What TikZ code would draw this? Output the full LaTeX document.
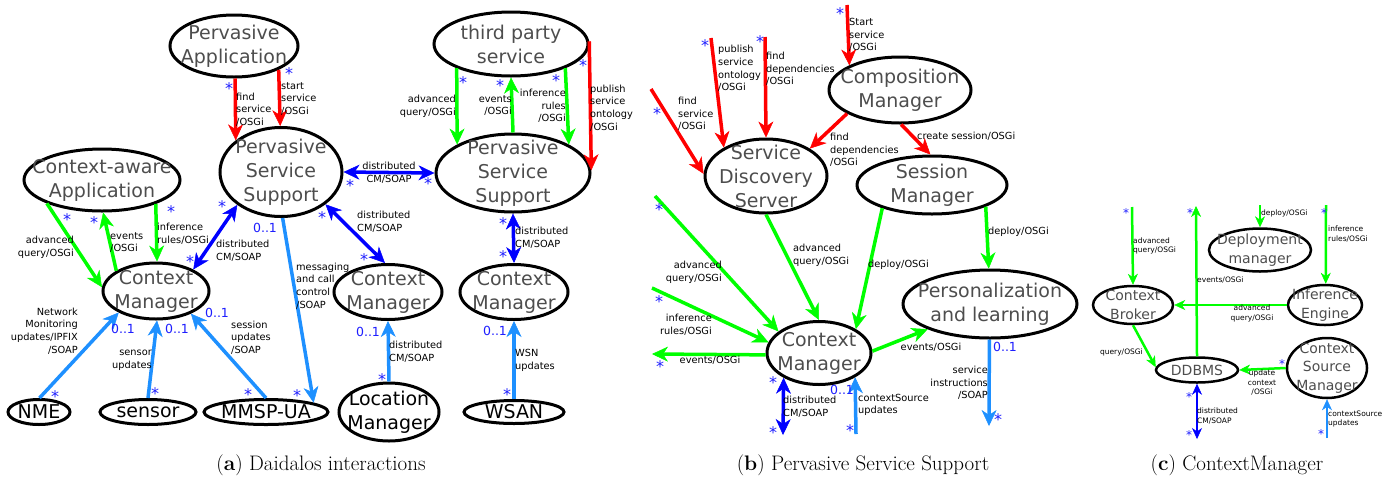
\documentclass[tikz,border=0pt]{standalone}
\usepackage{fontspec}
\usetikzlibrary{shapes.geometric,arrows.meta}
\newfontfamily\dv{DejaVu Sans}
\definecolor{cred}{RGB}{255,0,0}
\definecolor{cgreen}{RGB}{0,255,0}
\definecolor{cblue}{RGB}{0,0,255}
\definecolor{clblue}{RGB}{30,144,255}
\definecolor{cstar}{RGB}{30,30,255}
\definecolor{ctxt}{RGB}{77,77,77}
\tikzset{
  hd/.tip={Stealth[length=16pt,width=15pt,inset=5pt,line width=0.5pt]},
  hdc/.tip={Stealth[length=11pt,width=10pt,inset=3.5pt,line width=0.5pt]}
}
\begin{document}
\begin{tikzpicture}[x=1pt,y=-1pt,
  ell/.style={ellipse,draw,line width=3pt,inner sep=0pt},
  ellc/.style={ellipse,draw,line width=2.5pt,inner sep=0pt},
  etxt/.style={font=\dv\fontsize{19}{24}\selectfont,text=ctxt,align=center,inner sep=0pt},
  btxt/.style={font=\dv\fontsize{19}{24}\selectfont,text=black,align=center,inner sep=0pt},
  ctxtc/.style={font=\dv\fontsize{14}{18.3}\selectfont,text=ctxt,align=center,inner sep=0pt},
  lab/.style={font=\dv\fontsize{9.8}{12.6}\selectfont,inner sep=0pt},
  labL/.style={lab,align=left,anchor=west},
  labR/.style={lab,align=right,anchor=east},
  labC/.style={lab,align=center},
  labc/.style={font=\dv\fontsize{7.5}{9.8}\selectfont,inner sep=0pt},
  labcL/.style={labc,align=left,anchor=west},
  labcR/.style={labc,align=right,anchor=east},
  labcC/.style={labc,align=center},
  mstar/.style={font=\dv\fontsize{16}{16}\selectfont,text=cstar,inner sep=0pt,yshift=-2.7pt},
  mstarc/.style={font=\dv\fontsize{12}{12}\selectfont,text=cstar,inner sep=0pt,yshift=-2pt},
  mult/.style={font=\dv\fontsize{12.5}{12.5}\selectfont,text=cstar,inner sep=0pt},
  captxt/.style={font=\rmfamily\fontsize{21}{25}\selectfont,inner sep=0pt},
  conn/.style={line width=3.5pt,-hd},
  redar/.style={conn,draw=cred},
  grar/.style={conn,draw=cgreen},
  lbar/.style={conn,draw=clblue},
  dblb/.style={line width=3.5pt,hd-hd,draw=cblue},
  connc/.style={line width=2.5pt,-hdc},
  grc/.style={connc,draw=cgreen},
  lbc/.style={connc,draw=clblue},
  dblc/.style={line width=2.5pt,hdc-hdc,draw=cblue}
]
\useasboundingbox (0,0) rectangle (1399,480);

% ================= panel (a) =================
\node[ell,minimum width=128pt,minimum height=62pt] (pa) at (234,46) {};
\node[etxt] (pat) at (pa) {Pervasive\\Application};
\node[ell,minimum width=122pt,minimum height=89pt] (pss1) at (281,172) {};
\node[etxt] (pss1t) at (pss1) {Pervasive\\Service\\Support};
\node[ell,minimum width=156pt,minimum height=62pt] (caa) at (102,180) {};
\node[etxt] (caat) at (caa) {Context-aware\\Application};
\node[ell,minimum width=106pt,minimum height=56pt] (cm1) at (156,291) {};
\node[etxt] (cm1t) at (cm1) {Context\\Manager};
\node[ell,minimum width=62pt,minimum height=25pt] (nme) at (39,412) {};
\node[btxt] (nmet) at (nme) {NME};
\node[ell,minimum width=96pt,minimum height=25pt] (sensor) at (148,412) {};
\node[btxt] (sensort) at (sensor) {sensor};
\node[ell,minimum width=124pt,minimum height=25pt] (mmsp) at (266,412) {};
\node[btxt] (mmspt) at (mmsp) {MMSP-UA};
\node[ell,minimum width=100pt,minimum height=58pt] (loc) at (389,412) {};
\node[btxt] (loct) at (loc) {Location\\Manager};
\node[ell,minimum width=100pt,minimum height=23pt] (wsan) at (514,412) {};
\node[btxt] (wsant) at (wsan) {WSAN};
\node[ell,minimum width=108pt,minimum height=55pt] (cm2) at (388,292) {};
\node[etxt] (cm2t) at (cm2) {Context\\Manager};
\node[ell,minimum width=108pt,minimum height=55pt] (cm3) at (514,292) {};
\node[etxt] (cm3t) at (cm3) {Context\\Manager};
\node[ell,minimum width=154pt,minimum height=64pt] (tps) at (511,44) {};
\node[etxt] (tpst) at (tps) {third party\\service};
\node[ell,minimum width=154pt,minimum height=78pt] (pss2) at (513,173) {};
\node[etxt] (pss2t) at (pss2) {Pervasive\\Service\\Support};

\draw[redar] (pa.-88) -- (pss1.145);
\draw[redar] (pa.-28) -- (pss1.91);
\draw[grar] (caa.-157) -- (cm1.176);
\draw[grar] (cm1.153) -- (caa.-88);
\draw[grar] (caa.-24) -- (cm1.88);
\draw[dblb] (pss1.-143) -- (cm1.30);
\draw[dblb] (pss1.0) -- (pss2.180);
\draw[dblb] (pss1.-36) -- (cm2.96);
\draw[dblb] (pss2.-90) -- (cm3.90);
\draw[lbar] (nme.88) -- (cm1.-150);
\draw[lbar] (sensor.90) -- (cm1.-88);
\draw[lbar] (mmsp.90) -- (cm1.-33);
\draw[lbar] (pss1.-88) -- (mmsp.11);
\draw[lbar] (loc.90) -- (cm2.-90);
\draw[lbar] (wsan.90) -- (cm3.-90);
\draw[grar] (tps.-156) -- (pss2.153);
\draw[grar] (pss2.90) -- (tps.-90);
\draw[grar] (tps.-24) -- (pss2.27);
\draw[redar] (tps.2) -- (pss2.2);

\foreach \p in {(229,86),(289,71),(67,217),(94,220),(171,209),(222,204),(190,259),
  (350,183),(428,181),(322,215),(364,257),(503,221),(503,254),(55,394),(155,391),
  (248,392),(297,393),(382,377),(507,392),(463,80),(500,83),(556,78),(583,63)}
  \node[mstar] at \p {*};
\foreach \p in {(123,329),(177,329),(217,313),(265,228),(368,332),(495,331)}
  \node[mult] at \p {0..1};

\node[labL] at (236,109.5) {find\\service\\/OSGi};
\node[labL] at (281,99) {start\\service\\/OSGi};
\node[labR] at (74,247) {advanced\\query/OSGi};
\node[labL] at (110,242.5) {events\\/OSGi};
\node[labL] at (157,233.5) {inference\\rules/OSGi};
\node[labL] at (216,251) {distributed\\CM/SOAP};
\node[labC] at (389,173) {distributed\\CM/SOAP};
\node[labL] at (357,222) {distributed\\CM/SOAP};
\node[labL] at (515,238) {distributed\\CM/SOAP};
\node[labR] at (78,331) {Network\\Monitoring\\updates/IPFIX\\/SOAP};
\node[labR] at (152,360.5) {sensor\\updates};
\node[labL] at (231,337.5) {session\\updates\\/SOAP};
\node[labL] at (296,286) {messaging\\and call\\control\\/SOAP};
\node[labL] at (389,352) {distributed\\CM/SOAP};
\node[labL] at (515,360.5) {WSN\\updates};
\node[labR] at (456,106) {advanced\\query/OSGi};
\node[labR] at (512,105.5) {events\\/OSGi};
\node[labR] at (566,106) {inference\\rules\\/OSGi};
\node[labL] at (590,108) {publish\\service\\ontology\\/OSGi};

% ================= panel (b) =================
\node[ell,minimum width=122pt,minimum height=74pt] (sds) at (766,176) {};
\node[etxt] (sdst) at (sds) {Service\\Discovery\\Server};
\node[ell,minimum width=142pt,minimum height=66pt] (comp) at (900,90) {};
\node[etxt] (compt) at (comp) {Composition\\Manager};
\node[ell,minimum width=150pt,minimum height=58pt] (sess) at (932,185) {};
\node[etxt] (sesst) at (sess) {Session\\Manager};
\node[ell,minimum width=174pt,minimum height=68pt] (pers) at (990,304) {};
\node[etxt] (perst) at (pers) {Personalization\\and learning};
\node[ell,minimum width=104pt,minimum height=63pt] (cmb) at (819,353) {};
\node[etxt] (cmbt) at (cmb) {Context\\Manager};

\coordinate (b1) at (847,5);
\coordinate (b2) at (711,38);
\coordinate (b3) at (765,37);
\coordinate (b4) at (651,89);
\coordinate (b5) at (655,196);
\coordinate (b6) at (652,288);
\coordinate (b7) at (652,354);
\coordinate (b8) at (783,435);
\coordinate (b9) at (856,434);
\coordinate (b10) at (989,426);

\draw[redar] (b1) -- (comp.154);
\draw[redar] (b2) -- (sds.146);
\draw[redar] (b3) -- (sds.90);
\draw[redar] (b4) -- (sds.178);
\draw[redar] (comp.-156) -- (sds.32);
\draw[redar] (comp.-88) -- (sess.93);
\draw[grar] (sds.-90) -- (cmb.90);
\draw[grar] (sess.-155) -- (cmb.33);
\draw[grar] (sess.-22) -- (pers.92);
\draw[grar] (b5) -- (cmb.152);
\draw[grar] (b6) -- (cmb.168);
\draw[grar] (cmb.182) -- (b7);
\draw[grar] (cmb.2) -- (pers.-158);
\draw[dblb] (cmb.-145) -- (b8);
\draw[lbar] (b9) -- (cmb.-34);
\draw[lbar] (pers.-91) -- (b10);

\foreach \p in {(840,11),(705,43),(760,39),(657,111),(659,207),(659,299),(660,364),
  (773,380),(773,430),(850,428),(998,417)}
  \node[mstar] at \p {*};
\foreach \p in {(842,390),(1005,347)}
  \node[mult] at \p {0..1};

\node[labL] at (849,35) {Start\\service\\/OSGi};
\node[labL] at (718,68.5) {publish\\service\\ontology\\/OSGi};
\node[labL] at (766,69) {find\\dependencies\\/OSGi};
\node[labL] at (678,114) {find\\service\\/OSGi};
\node[labL] at (830,150) {find\\dependencies\\/OSGi};
\node[labL] at (917,136) {create session/OSGi};
\node[labL] at (793,255) {advanced\\query/OSGi};
\node[labL] at (868,265) {deploy/OSGi};
\node[labL] at (988,232) {deploy/OSGi};
\node[labR] at (722,272.5) {advanced\\query/OSGi};
\node[labR] at (712,324.5) {inference\\rules/OSGi};
\node[labC] at (710,360) {events/OSGi};
\node[labL] at (783,406.5) {distributed\\CM/SOAP};
\node[labL] at (858,405) {contextSource\\updates};
\node[labC] at (931,347) {events/OSGi};
\node[labR] at (988,383) {service\\instructions\\/SOAP};

% ================= panel (c) =================
\node[ellc,minimum width=102pt,minimum height=43pt] (dm) at (1260,250) {};
\node[ctxtc] (dmt) at (dm) {Deployment\\manager};
\node[ellc,minimum width=80pt,minimum height=38pt] (cb) at (1133,305) {};
\node[ctxtc] (cbt) at (cb) {Context\\Broker};
\node[ellc,minimum width=74pt,minimum height=40pt] (ie) at (1325,305) {};
\node[ctxtc] (iet) at (ie) {Inference\\Engine};
\node[ellc,minimum width=82pt,minimum height=25pt] (ddb) at (1197,370) {};
\node[ctxtc] (ddbt) at (ddb) {DDBMS};
\node[ellc,minimum width=80pt,minimum height=60pt] (csm) at (1327,368) {};
\node[ctxtc] (csmt) at (csm) {Context\\Source\\Manager};

\coordinate (c1) at (1132,207);
\coordinate (c2) at (1196,206);
\coordinate (c3) at (1260,205);
\coordinate (c4) at (1326,205);
\coordinate (c5) at (1197,439);
\coordinate (c6) at (1327,438);

\draw[grc] (c1) -- (cb.90);
\draw[grc] (ddb.90) -- (c2);
\draw[grc] (c3) -- (dm.90);
\draw[grc] (c4) -- (ie.88);
\draw[grc] (ie.180) -- (cb.0);
\draw[grc] (cb.-90) -- (ddb.176);
\draw[grc] (csm.180) -- (ddb.0);
\draw[dblc] (ddb.-90) -- (c5);
\draw[lbc] (c6) -- (csm.-90);

\foreach \p in {(1126,211),(1190,211),(1324,211),(1282,362),(1189,395),(1189,433),(1321,432)}
  \node[mstarc] at \p {*};

\node[labcL] at (1133,246) {advanced\\query/OSGi};
\node[labcL] at (1197,280) {events/OSGi};
\node[labcL] at (1261,213) {deploy/OSGi};
\node[labcL] at (1328,234) {inference\\rules/OSGi};
\node[labcC] at (1252,313.5) {advanced\\query/OSGi};
\node[labcR] at (1143,352) {query/OSGi};
\node[labcC] at (1262,382.5) {update\\context\\/OSGi};
\node[labcL] at (1197,416) {distributed\\CM/SOAP};
\node[labcL] at (1328,419) {contextSource\\updates};

% captions
\node[captxt] (capa) at (321,465) {(\textbf{a}) Daidalos interactions};
\node[captxt] (capb) at (863,465) {(\textbf{b}) Pervasive Service Support};
\node[captxt] (capc) at (1237,465) {(\textbf{c}) ContextManager};
\end{tikzpicture}
\end{document}
